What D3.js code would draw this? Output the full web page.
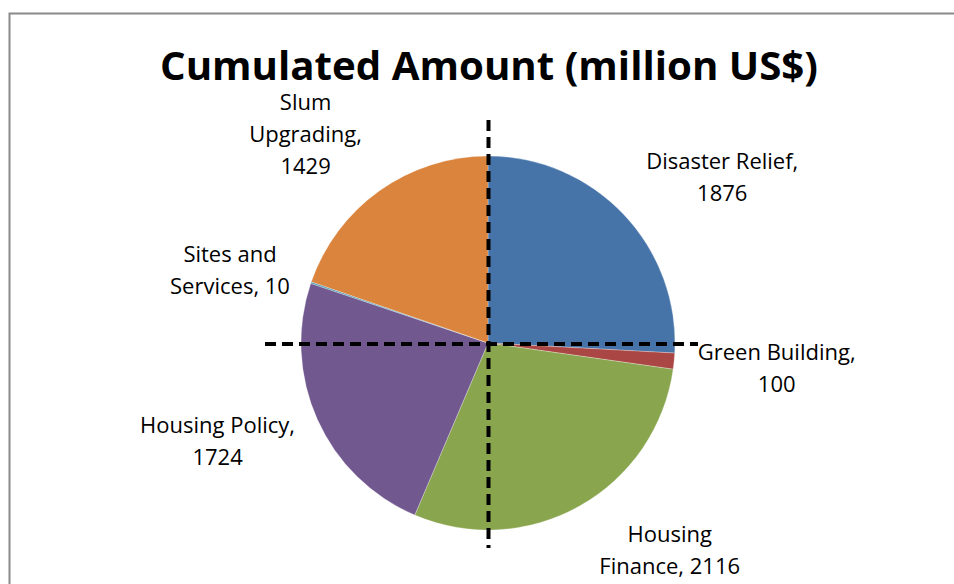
<!DOCTYPE html>
<html>
<head>
  <meta charset="utf-8">
  <title>pie</title>
  <style>
    body {margin:0; background:#fff;}
    svg text {font-family: "Open Sans", sans-serif; fill:#000;}
  </style>
</head>
<body>
<script src="https://cdn.jsdelivr.net/npm/d3@7"></script>
<script>
  // data
  var categories = ['Disaster Relief', 'Green Building', 'Housing Finance',
                    'Housing Policy', 'Sites and Services', 'Slum Upgrading'];
  var amounts = [1876, 100, 2116, 1724, 10, 1429];
  var colors = ['#4674A9', '#AA4643', '#89A54E', '#71588F', '#4198AF', '#DB843D'];
  // label text broken into lines like the original
  var labelLines = [
    ['Disaster Relief,', '1876'],
    ['Green Building,', '100'],
    ['Housing', 'Finance, 2116'],
    ['Housing Policy,', '1724'],
    ['Sites and', 'Services, 10'],
    ['Slum', 'Upgrading,', '1429']
  ];
  // small nudges from the centroid on the label ring
  var labelNudge = [[31, 27], [10, -2], [44, -37], [-15, -17], [7, 17], [-20, 19]];

  var width = 954,
      height = 584,
      cx = 488,
      cy = 343,
      radius = 187,
      labelRadius = 280;

  var svg = d3.select('body')
    .append('svg')
    .attr('width', width)
    .attr('height', height);

  // chart border (runs off right and bottom)
  svg.append('rect')
    .attr('x', 9.5)
    .attr('y', 13.5)
    .attr('width', 1000)
    .attr('height', 700)
    .style('fill', 'none')
    .style('stroke', '#8a8a8a')
    .style('stroke-width', 2);

  svg.append('text')
    .attr('x', 489)
    .attr('y', 80)
    .attr('text-anchor', 'middle')
    .attr('textLength', 658)
    .attr('lengthAdjust', 'spacingAndGlyphs')
    .style('font-size', '40px')
    .style('font-weight', 'bold')
    .text('Cumulated Amount (million US$)');

  var pie = d3.pie().sort(null).value(function(d){ return d; });
  var arcs = pie(amounts);

  var arc = d3.arc().innerRadius(0).outerRadius(radius);
  var labelArc = d3.arc().innerRadius(labelRadius).outerRadius(labelRadius);

  var g = svg.append('g')
    .attr('transform', 'translate(' + cx + ',' + cy + ')');

  g.selectAll('path.slice')
    .data(arcs)
    .enter().append('path')
    .attr('class', 'slice')
    .attr('d', arc)
    .style('fill', function(d, i){ return colors[i]; })
    .style('stroke', 'rgba(255,255,255,0.7)')
    .style('stroke-width', 0.4);

  // dashed cross-hairs
  var dash = g.append('g')
    .style('stroke', '#000')
    .style('stroke-width', 4)
    .style('stroke-dasharray', '11,6');

  dash.append('line')
    .attr('x1', 0.5).attr('x2', 0.5)
    .attr('y1', -223).attr('y2', 205);

  dash.append('line')
    .attr('x1', -223).attr('x2', 210)
    .attr('y1', 1).attr('y2', 1);

  var lineH = 32;
  var labels = g.selectAll('text.lbl')
    .data(arcs)
    .enter().append('text')
    .attr('class', 'lbl')
    .attr('text-anchor', 'middle')
    .style('font-size', '22px')
    .attr('transform', function(d, i){
      var c = labelArc.centroid(d);
      var n = labelLines[i].length;
      var x = c[0] + labelNudge[i][0];
      var y = c[1] + labelNudge[i][1] - (n - 1) * lineH / 2 + 8;
      return 'translate(' + x + ',' + y + ')';
    });

  labels.selectAll('tspan')
    .data(function(d, i){ return labelLines[i]; })
    .enter().append('tspan')
    .attr('x', 0)
    .attr('dy', function(d, j){ return j ? lineH : 0; })
    .text(function(d){ return d; });
</script>
</body>
</html>
